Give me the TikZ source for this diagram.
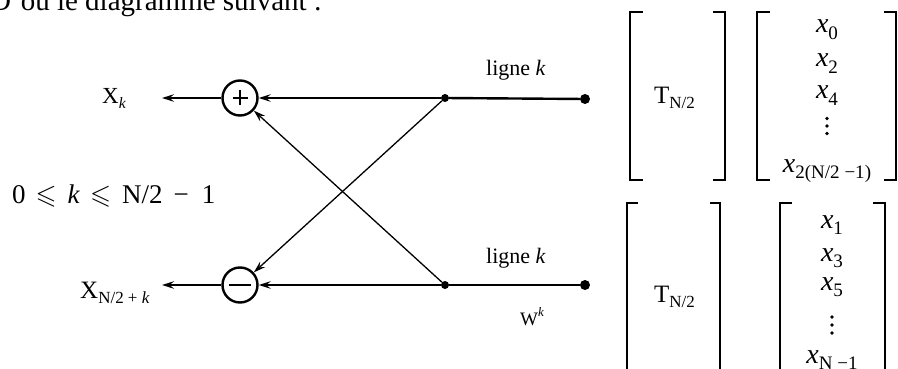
\documentclass[tikz,border=0pt]{standalone}
\usepackage{fontspec}
\usepackage{amssymb}
\usepackage{graphicx}
\setmainfont{Liberation Serif}
\usetikzlibrary{arrows.meta}
\newcommand\dn[1]{\raisebox{-0.22em}{\scalebox{0.68}{#1}}}
\newcommand\up[1]{\raisebox{0.45em}{\scalebox{0.68}{#1}}}
\newcommand\fs[1]{\fontsize{#1}{#1}\selectfont}
\begin{document}
\begin{tikzpicture}[x=1pt,y=-1pt,
  thickln/.style={line width=2.4pt},
  thinln/.style={line width=1.3pt},
  arr/.style={-{Stealth[length=12pt,width=7.5pt,inset=4.5pt]}},
  sumnode/.style={circle,draw,line width=2.4pt,minimum size=35pt,inner sep=0pt},
  dotnode/.style={circle,fill,inner sep=0pt,minimum size=8pt},
  enddot/.style={circle,fill,inner sep=0pt,minimum size=10pt},
  lbl/.style={inner sep=0pt,anchor=base west},
  clbl/.style={inner sep=0pt,anchor=base},
  brk/.style={line width=2.6pt},
  vdot/.style={circle,fill,inner sep=0pt,minimum size=3.8pt}]
\useasboundingbox (0,0) rectangle (898,369);

% heading (cut off at the top)
\node[lbl,font=\fs{29}] (title) at (-10,11) {D'où le diagramme suivant :};

% labels on the left
\node[lbl,font=\fs{23}] (Xk) at (102,103) {X\dn{\textit{k}}};
\node[lbl,font=\fs{25}] (Xn) at (80,298) {X\dn{N/2 + \textit{k}}};
\node[lbl,font=\fs{27}] (ineq) at (12,203) {0\hspace{10pt}$\leqslant$\hspace{11pt}\textit{k}\hspace{10pt}$\leqslant$\hspace{11pt}N/2\hspace{11pt}−\hspace{13pt}1};

% butterfly
\node[sumnode] (plus) at (240,98) {};
\node[sumnode] (minus) at (240,285) {};
\draw[line width=1.3pt] (plus.center) +(-7.5,0) -- +(7.5,0) +(0,-7.5) -- +(0,7.5);
\draw[line width=1.3pt] (minus.center) +(-11,0) -- +(11,0);

\node[dotnode] (tdot) at (445,98) {};
\node[dotnode] (bdot) at (445,285) {};
\node[enddot] (tend) at (585,99) {};
\node[enddot] (bend) at (585,285) {};
\coordinate (xkend) at (162,98);
\coordinate (xnend) at (162,285);

\draw[thickln] (tend) -- (tdot);
\draw[thickln] (bend) -- (bdot);
\draw[thickln,arr] (tdot) -- (plus);
\draw[thickln,arr] (bdot) -- (minus);
\draw[thickln,arr] (plus) -- (xkend);
\draw[thickln,arr] (minus) -- (xnend);
\draw[thinln,arr] (tdot) -- (minus);
\draw[thinln,arr] (bdot) -- (plus);

\node[clbl,font=\fs{22}] (l1) at (516,76) {ligne \textit{k}};
\node[clbl,font=\fs{22}] (l2) at (516,263) {ligne \textit{k}};
\node[lbl,font=\fs{19}] (w) at (520,325) {W\up{\textit{k}}};

% top matrices
\draw[brk] (643,12) -- (630,12) -- (630,180) -- (643,180);
\draw[brk] (713,12) -- (725,12) -- (725,180) -- (713,180);
\node[lbl,font=\fs{25}] (t1) at (654,103) {T\dn{N/2}};
\draw[brk] (770,12) -- (757,12) -- (757,180) -- (770,180);
\draw[brk] (884,12) -- (896,12) -- (896,180) -- (884,180);
\node[clbl,font=\fs{28}] (x0) at (827,33) {\textit{x}\dn{0}};
\node[clbl,font=\fs{28}] (x2) at (827,67) {\textit{x}\dn{2}};
\node[clbl,font=\fs{28}] (x4) at (827,99) {\textit{x}\dn{4}};
\node[vdot] at (827,118.5) {};
\node[vdot] at (827,126) {};
\node[vdot] at (827,133.5) {};
\node[clbl,font=\fs{28}] (xe) at (827,172) {\textit{x}\dn{2(N/2 −1)}};

% bottom matrices
\draw[brk] (638,203) -- (627,203) -- (627,380);
\draw[brk] (710,203) -- (720,203) -- (720,380);
\node[lbl,font=\fs{25}] (t2) at (654,302) {T\dn{N/2}};
\draw[brk] (792,203) -- (780,203) -- (780,380);
\draw[brk] (873,203) -- (885,203) -- (885,380);
\node[clbl,font=\fs{28}] (x1) at (832,228) {\textit{x}\dn{1}};
\node[clbl,font=\fs{28}] (x3) at (832,261) {\textit{x}\dn{3}};
\node[clbl,font=\fs{28}] (x5) at (832,290) {\textit{x}\dn{5}};
\node[vdot] at (832,317) {};
\node[vdot] at (832,325) {};
\node[vdot] at (832,333) {};
\node[clbl,font=\fs{28}] (xo) at (832,363) {\textit{x}\dn{N −1}};
\end{tikzpicture}
\end{document}
